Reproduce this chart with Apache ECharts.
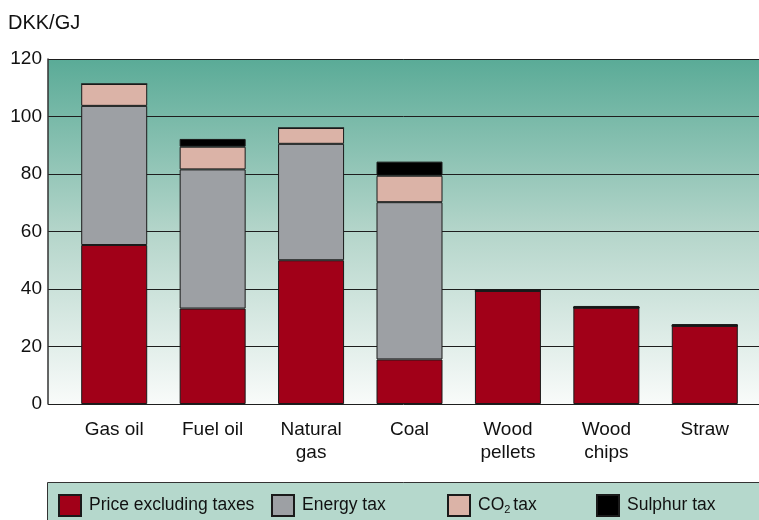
<!DOCTYPE html>
<html>
<head>
<meta charset="utf-8">
<script src="https://cdn.jsdelivr.net/npm/echarts@6/dist/echarts.min.js"></script>
<style>
  html, body { margin: 0; padding: 0; background: #ffffff; }
  #chart { width: 759px; height: 520px; }
</style>
</head>
<body>
<div id="chart"></div>
<script>
// Fuel prices in DKK/GJ, split into price and tax components
const categories = ['Gas oil', 'Fuel oil', 'Natural\ngas', 'Coal', 'Wood\npellets', 'Wood\nchips', 'Straw'];
const priceExTaxes = [55.3, 33.2, 50.0, 15.5, 39.3, 33.5, 27.2];
const energyTax    = [48.4, 48.4, 40.5, 54.7, 0, 0, 0];
const co2Tax       = [7.6, 7.9, 5.5, 9.2, 0, 0, 0];
const sulphurTax   = [0, 2.7, 0, 4.9, 0.6, 0.6, 0.6];
const seriesNames  = ['Price excluding taxes', 'Energy tax', 'CO2 tax', 'Sulphur tax'];
const yTicks = { min: 0, max: 120, interval: 20 };

const colors = ['#a10018', '#9da0a4', '#dbb3a7', '#000000'];
const font = 'Liberation Sans, Arial, sans-serif';

const chart = echarts.init(document.getElementById('chart'), null, { renderer: 'canvas' });

function barSeries(name, data, color) {
  return {
    name: name,
    type: 'bar',
    stack: 'total',
    xAxisIndex: 1,
    yAxisIndex: 1,
    barWidth: 66,
    data: data,
    itemStyle: { color: color, borderColor: '#1a1a1a', borderWidth: 1 },
    emphasis: { disabled: true }
  };
}

function legendAt(name, left) {
  return {
    data: [name],
    left: left,
    top: 494,
    padding: 0,
    itemWidth: 22,
    itemHeight: 21,
    icon: 'rect',
    selectedMode: false,
    formatter: function (n) { return n === 'CO2 tax' ? 'CO{sub|2}tax' : n; },
    textStyle: {
      fontFamily: font,
      fontSize: 17.5,
      color: '#111',
      padding: [0, 0, 0, 3],
      rich: {
        sub: { fontFamily: font, fontSize: 11, color: '#111', padding: [8, 3, 0, 0] }
      }
    }
  };
}

chart.setOption({
  animation: false,
  graphic: [
    {
      type: 'text',
      left: 8,
      top: 13,
      style: { text: 'DKK/GJ', fontFamily: font, fontSize: 20, fill: '#111' }
    },
    {
      type: 'rect',
      shape: { x: 47.5, y: 482.5, width: 740, height: 60 },
      style: { fill: '#b5d8cc', stroke: '#333', lineWidth: 1 },
      z: -1
    }
  ],
  grid: [
    {
      left: 48, right: 0, top: 59, bottom: 116,
      show: true,
      borderWidth: 0,
      backgroundColor: new echarts.graphic.LinearGradient(0, 0, 0, 1, [
        { offset: 0, color: '#5aab97' },
        { offset: 0.5, color: '#b4d5ca' },
        { offset: 1, color: '#f9fbfa' }
      ])
    },
    { left: 65, right: 5, top: 59, bottom: 116 }
  ],
  xAxis: [
    { gridIndex: 0, type: 'value', show: false, min: 0, max: 1 },
    {
      gridIndex: 1,
      type: 'category',
      data: categories,
      axisLine: { show: false },
      axisTick: { show: false },
      axisLabel: {
        fontFamily: font, fontSize: 19, color: '#111',
        lineHeight: 23, margin: 14, interval: 0
      }
    }
  ],
  yAxis: [
    {
      gridIndex: 0,
      type: 'value',
      min: yTicks.min, max: yTicks.max, interval: yTicks.interval,
      axisLine: { show: true, lineStyle: { color: '#333', width: 1.5 } },
      axisTick: { show: false },
      axisLabel: { fontFamily: font, fontSize: 19, color: '#111', margin: 6 },
      splitLine: { show: true, lineStyle: { color: '#1e1e1e', width: 1 } }
    },
    {
      gridIndex: 1,
      type: 'value',
      min: yTicks.min, max: yTicks.max,
      show: false
    }
  ],
  legend: [
    legendAt(seriesNames[0], 58),
    legendAt(seriesNames[1], 271),
    legendAt(seriesNames[2], 447),
    legendAt(seriesNames[3], 596)
  ],
  series: [
    barSeries(seriesNames[0], priceExTaxes, colors[0]),
    barSeries(seriesNames[1], energyTax, colors[1]),
    barSeries(seriesNames[2], co2Tax, colors[2]),
    barSeries(seriesNames[3], sulphurTax, colors[3])
  ]
});
</script>
</body>
</html>
